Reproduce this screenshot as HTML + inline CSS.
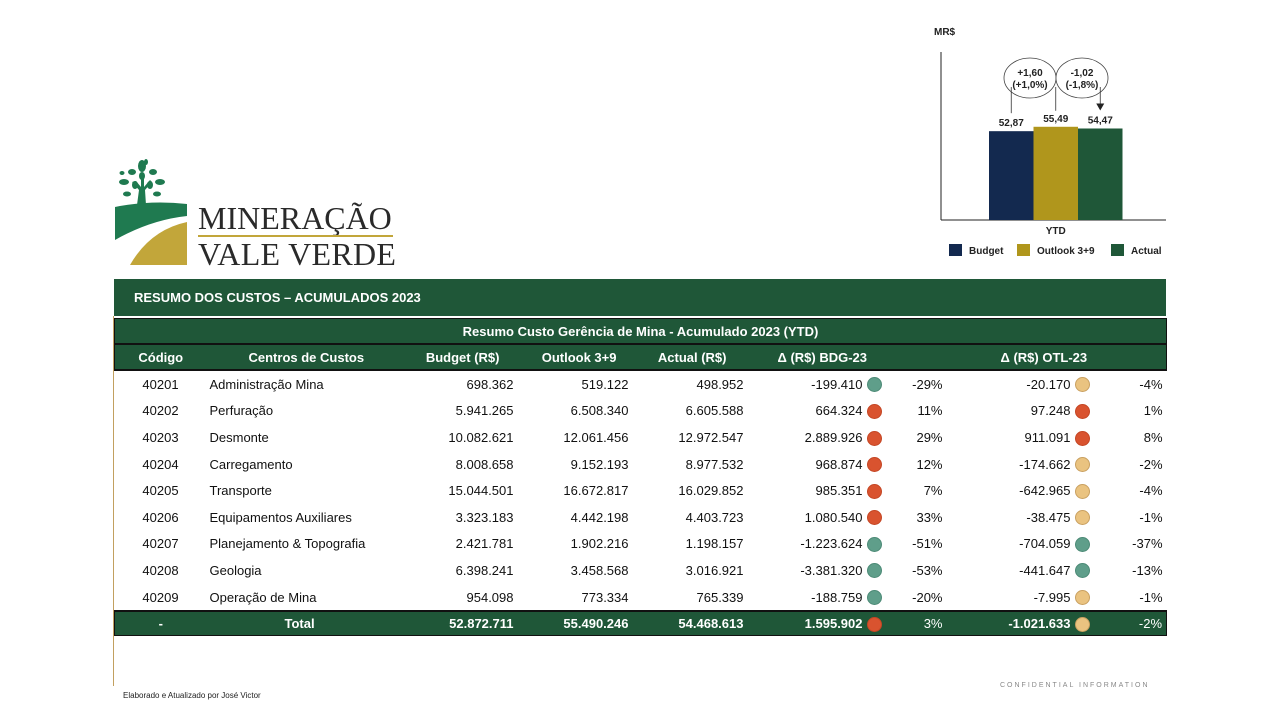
<!DOCTYPE html>
<html><head><meta charset="utf-8">
<style>
body{margin:0;background:#fff;}
#page{position:relative;width:1280px;height:720px;overflow:hidden;font-family:"Liberation Sans",Arial,sans-serif;}
.abs{position:absolute;}
#tbl{position:absolute;left:114px;top:318px;width:1052px;border-collapse:collapse;font-size:13px;color:#111;table-layout:fixed;}
#tbl td{padding:0;height:26.6px;white-space:nowrap;line-height:15px;}
#tbl tr.hd td{background:#1f5738;color:#fff;font-weight:bold;text-align:center;height:24px;}
#tbl tr.tot td{background:#1f5738;color:#fff;font-weight:bold;height:23px;}
.r{text-align:right;}
.c{text-align:center;}
.dot{display:inline-block;width:15px;height:15px;border-radius:50%;vertical-align:middle;box-sizing:border-box;}
.g{background:#5f9e8a;border:1px solid #4c8a76;}
.rd{background:#d9532f;border:1px solid #c44624;}
.y{background:#eac380;border:1px solid #c9a060;}
</style></head><body>
<div id="page">

<svg class="abs" style="left:110px;top:150px" width="90" height="120">
  <path d="M5 57 Q40 50 77 54 L77 66 Q40 70 5 90 Z" fill="#1f7a50"/>
  <path d="M20 115 Q40 80 77 72 L77 115 Z" fill="#c2a63a"/>
  <path d="M27 55 L29 40 L22 32 L26 31 L31 37 L31 28 L34 28 L34 37 L40 30 L42 32 L35 40 L36 55 Z" fill="#1f7a50"/>
  <g fill="#1f7a50">
    <ellipse cx="32" cy="16" rx="4" ry="6"/><ellipse cx="22" cy="22" rx="4" ry="3"/><ellipse cx="43" cy="22" rx="4" ry="3"/>
    <ellipse cx="14" cy="32" rx="5" ry="3"/><ellipse cx="50" cy="32" rx="5" ry="3"/><ellipse cx="25" cy="35" rx="3" ry="4"/>
    <ellipse cx="40" cy="35" rx="3" ry="4"/><ellipse cx="17" cy="44" rx="4" ry="2.5"/><ellipse cx="47" cy="44" rx="4" ry="2.5"/>
    <ellipse cx="32" cy="26" rx="3" ry="4"/><ellipse cx="12" cy="23" rx="2.5" ry="2"/><ellipse cx="36" cy="12" rx="2" ry="3"/>
  </g>
</svg>
<div class="abs" style="left:198px;top:201px;font-family:'Liberation Serif',serif;font-size:32px;color:#2a2a2a;line-height:34px">MINERAÇÃO</div>
<div class="abs" style="left:198px;top:235px;width:195px;height:2px;background:#c2a63a"></div>
<div class="abs" style="left:198px;top:237px;font-family:'Liberation Serif',serif;font-size:32px;color:#2a2a2a;line-height:34px;letter-spacing:0.3px">VALE VERDE</div>

<svg id="chart" class="abs" style="left:900px;top:15px" width="280" height="250"></svg>

<div class="abs" style="left:114px;top:279px;width:1052px;height:37px;background:#1f5738">
  <div style="position:absolute;left:20px;top:11px;color:#fff;font-weight:bold;font-size:13px">RESUMO DOS CUSTOS – ACUMULADOS 2023</div>
</div>
<div class="abs" style="left:113px;top:316px;width:1px;height:370px;background:#c2a060"></div>

<table id="tbl">
<colgroup><col style="width:92px"><col style="width:160px"><col style="width:151px"><col style="width:115px"><col style="width:115px"><col style="width:117px"><col style="width:20px"><col style="width:72px"><col style="width:116px"><col style="width:20px"><col style="width:74px"></colgroup>
<tr class="hd" style="border:1px solid #111;border-bottom:2px solid #111"><td colspan="11">Resumo Custo Gerência de Mina - Acumulado 2023 (YTD)</td></tr>
<tr class="hd" style="border:1px solid #111;border-bottom:2px solid #111">
<td>Código</td>
<td colspan="2" style="text-align:left;padding-left:46px"><span style="position:relative;left:-4px">Centros de Custos</span><span style="float:right;padding-right:18px">Budget (R$)</span></td>
<td style="text-align:right;padding-right:16px">Outlook 3+9</td>
<td style="text-align:right;padding-right:21px">Actual (R$)</td>
<td colspan="3" style="text-align:left;padding-left:30px">Δ (R$) BDG-23</td>
<td colspan="3" style="text-align:left;padding-left:44px">Δ (R$) OTL-23</td>
</tr>
<tbody id="body"></tbody>
</table>

<div class="abs" style="left:123px;top:691px;font-size:8px;color:#222">Elaborado e Atualizado por José Victor</div>
<div class="abs" style="left:1000px;top:682px;font-size:7px;color:#888;letter-spacing:2px">CONFIDENTIAL INFORMATION</div>

<script>
const categories=["Budget","Outlook 3+9","Actual"];
const values=[52.87,55.49,54.47];
const valueLabels=["52,87","55,49","54,47"];
const colors=["#13294f","#b0961c","#1f5738"];
const deltaLabels=[["+1,60","(+1,0%)"],["-1,02","(-1,8%)"]];
const NS="http://www.w3.org/2000/svg";
const svg=document.getElementById('chart');
function el(t,a){const e=document.createElementNS(NS,t);for(const k in a)e.setAttribute(k,a[k]);svg.appendChild(e);return e;}
const base=205, scale=1.68, x0=89, bw=44.5;
const y=v=>base-v*scale;
let t=el('text',{x:34,y:20,'font-size':10,'font-weight':'bold',fill:'#222'});t.textContent='MR$';

let a=el('line',{x1:41,y1:37,x2:41,y2:base,stroke:'#222','stroke-width':1});

a=el('line',{x1:41,y1:base,x2:266,y2:base,stroke:'#222','stroke-width':1});

values.forEach((v,i)=>{
  const r=el('rect',{x:x0+i*bw,y:y(v),width:bw,height:v*scale,fill:colors[i]});
  
  
  const l=el('text',{x:x0+i*bw+bw/2,y:y(v)-5,'text-anchor':'middle','font-size':10,'font-weight':'bold',fill:'#222'});
  l.textContent=valueLabels[i];
  
});
deltaLabels.forEach((d,i)=>{
  const cx=(i==0?130:182), cy=63;
  const e=el('ellipse',{cx:cx,cy:cy,rx:26,ry:20,fill:'#fff',stroke:'#444','stroke-width':0.8});
  
  [0,1].forEach(j=>{const tt=el('text',{x:cx,y:cy-2+j*12,'text-anchor':'middle','font-size':10,'font-weight':'bold',fill:'#222'});tt.textContent=d[j];
  });
});
el('line',{x1:x0+bw*0.5,y1:y(values[0])-18,x2:x0+bw*0.5,y2:72,stroke:'#333','stroke-width':0.8});
el('line',{x1:x0+bw*1.5,y1:y(values[1])-16,x2:x0+bw*1.5,y2:72,stroke:'#333','stroke-width':0.8});
el('line',{x1:x0+bw*2.5,y1:72,x2:x0+bw*2.5,y2:y(values[2])-24,stroke:'#333','stroke-width':0.8});
el('path',{d:`M${x0+bw*2.5-4} ${y(values[2])-25} L${x0+bw*2.5+4} ${y(values[2])-25} L${x0+bw*2.5} ${y(values[2])-18} Z`,fill:'#222'});
t=el('text',{x:x0+bw*1.5,y:219,'text-anchor':'middle','font-size':10,'font-weight':'bold',fill:'#222'});t.textContent='YTD';

const lx=[49,117,211];
categories.forEach((c,i)=>{
  const r=el('rect',{x:lx[i],y:229,width:13,height:12,fill:colors[i]});
  
  const tt=el('text',{x:lx[i]+20,y:239,'font-size':10,'font-weight':'bold',fill:'#222'});tt.textContent=c;
  
});

const codes=["40201","40202","40203","40204","40205","40206","40207","40208","40209"];
const centers=["Administração Mina","Perfuração","Desmonte","Carregamento","Transporte","Equipamentos Auxiliares","Planejamento & Topografia","Geologia","Operação de Mina"];
const budget=["698.362","5.941.265","10.082.621","8.008.658","15.044.501","3.323.183","2.421.781","6.398.241","954.098"];
const outlook=["519.122","6.508.340","12.061.456","9.152.193","16.672.817","4.442.198","1.902.216","3.458.568","773.334"];
const actual=["498.952","6.605.588","12.972.547","8.977.532","16.029.852","4.403.723","1.198.157","3.016.921","765.339"];
const dBdg=["-199.410","664.324","2.889.926","968.874","985.351","1.080.540","-1.223.624","-3.381.320","-188.759"];
const dBdgCls=["g","rd","rd","rd","rd","rd","g","g","g"];
const pBdg=["-29%","11%","29%","12%","7%","33%","-51%","-53%","-20%"];
const dOtl=["-20.170","97.248","911.091","-174.662","-642.965","-38.475","-704.059","-441.647","-7.995"];
const dOtlCls=["y","rd","rd","y","y","y","g","g","y"];
const pOtl=["-4%","1%","8%","-2%","-4%","-1%","-37%","-13%","-1%"];
const tot=["52.872.711","55.490.246","54.468.613","1.595.902","rd","3%","-1.021.633","y","-2%"];
const body=document.getElementById('body');
function row(cells,cls,name){
  const tr=document.createElement('tr');if(cls)tr.className=cls;
  
  
  tr.innerHTML=cells;body.appendChild(tr);
}
codes.forEach((c,i)=>{
  row(`<td class="c">${c}</td><td style="padding-left:3px">${centers[i]}</td><td class="r" style="padding-right:4px">${budget[i]}</td><td class="r" style="padding-right:4px">${outlook[i]}</td><td class="r" style="padding-right:4px">${actual[i]}</td><td class="r" style="padding-right:2px">${dBdg[i]}</td><td class="c"><span class="dot ${dBdgCls[i]}"></span></td><td class="r" style="padding-right:14px">${pBdg[i]}</td><td class="r" style="padding-right:2px">${dOtl[i]}</td><td class="c"><span class="dot ${dOtlCls[i]}"></span></td><td class="r" style="padding-right:4px">${pOtl[i]}</td>`,'','table-row-'+c);
});
row(`<td class="c">-</td><td style="padding-left:78px">Total</td><td class="r" style="padding-right:4px">${tot[0]}</td><td class="r" style="padding-right:4px">${tot[1]}</td><td class="r" style="padding-right:4px">${tot[2]}</td><td class="r" style="padding-right:2px">${tot[3]}</td><td class="c"><span class="dot ${tot[4]}"></span></td><td class="r" style="padding-right:14px;font-weight:normal">${tot[5]}</td><td class="r" style="padding-right:2px">${tot[6]}</td><td class="c"><span class="dot ${tot[7]}"></span></td><td class="r" style="padding-right:4px;font-weight:normal">${tot[8]}</td>`,'tot','table-total-row');
body.lastChild.style.border='1px solid #111';
body.lastChild.style.borderTop='2px solid #111';
</script>
</div>
</body></html>
